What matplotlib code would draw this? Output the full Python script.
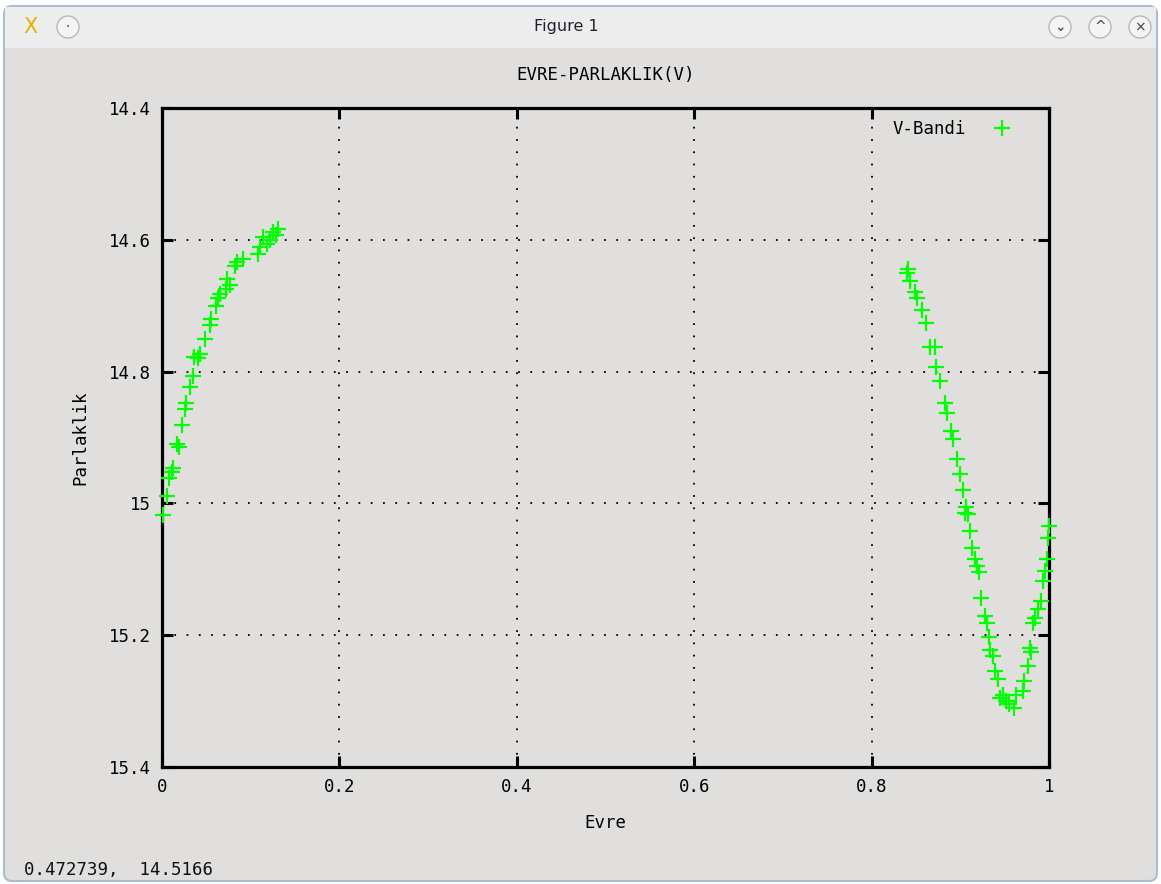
import matplotlib
matplotlib.use("Agg")
import matplotlib.pyplot as plt
from matplotlib.patches import FancyBboxPatch, Rectangle, Circle
import numpy as np

# ---- data ----
phase = [0.0015, 0.0053, 0.008, 0.0127, 0.011, 0.0173, 0.019, 0.0225, 0.026, 0.027,
         0.032, 0.0346, 0.0364, 0.043, 0.041, 0.0485, 0.054, 0.055, 0.061, 0.0635,
         0.065, 0.0736, 0.0767, 0.072, 0.0823, 0.085, 0.0917, 0.1086, 0.110, 0.1135,
         0.118, 0.1255, 0.131, 0.122, 0.128,
         0.8395, 0.8405, 0.8433, 0.849, 0.8516, 0.8565, 0.861, 0.866, 0.8715, 0.873,
         0.877, 0.8828, 0.885, 0.889, 0.892, 0.896, 0.8997, 0.903, 0.906,
         0.905, 0.909, 0.911, 0.9135, 0.917, 0.919, 0.921, 0.923, 0.928, 0.930,
         0.932, 0.9335, 0.937, 0.939, 0.942, 0.9447, 0.9485, 0.952, 0.955, 0.960,
         0.963, 0.971, 0.972, 0.976, 0.9786, 0.980, 0.982, 0.984, 0.988, 0.9906,
         0.993, 0.9955, 0.9975, 0.999, 0.9995]
mag = [15.017, 14.989, 14.961, 14.947, 14.952, 14.910, 14.915, 14.881, 14.857, 14.847,
       14.824, 14.806, 14.778, 14.774, 14.780, 14.750, 14.730, 14.720, 14.700, 14.689,
       14.682, 14.659, 14.668, 14.675, 14.639, 14.634, 14.629, 14.621, 14.611, 14.595,
       14.606, 14.588, 14.583, 14.600, 14.592,
       14.650, 14.645, 14.662, 14.679, 14.689, 14.707, 14.727, 14.763, 14.763, 14.793,
       14.814, 14.847, 14.863, 14.890, 14.902, 14.933, 14.956, 14.980, 15.006,
       15.014, 15.016, 15.042, 15.067, 15.085, 15.095, 15.104, 15.143, 15.171, 15.181,
       15.203, 15.222, 15.232, 15.255, 15.267, 15.295, 15.290, 15.300, 15.305, 15.311,
       15.290, 15.285, 15.270, 15.247, 15.219, 15.225, 15.181, 15.174, 15.161, 15.148,
       15.118, 15.103, 15.085, 15.053, 15.034]

xticks = [0, 0.2, 0.4, 0.6, 0.8, 1]
xticklabels = ["0", "0.2", "0.4", "0.6", "0.8", "1"]
yticks = [14.4, 14.6, 14.8, 15.0, 15.2, 15.4]
yticklabels = ["14.4", "14.6", "14.8", "15", "15.2", "15.4"]

W, H = 1161, 884
mono = "DejaVu Sans Mono"
fig = plt.figure(figsize=(W / 100, H / 100), dpi=100, facecolor="white")

# ---- window decoration (pixel coordinates) ----
bg = fig.add_axes([0, 0, 1, 1])
bg.set_xlim(0, W)
bg.set_ylim(H, 0)
bg.axis("off")
bg.add_patch(FancyBboxPatch((4, 6), W - 8, H - 9, boxstyle="round,pad=0,rounding_size=8",
                            facecolor="#e0dfde", edgecolor="#a9bcd3", lw=1.5))
bg.add_patch(Rectangle((5, 7), W - 10, 41, facecolor="#ededed", edgecolor="none"))
bg.text(566, 27, "Figure 1", ha="center", va="center", fontsize=11.5,
        family="DejaVu Sans", color="#202030")
for cx, sym in [(68, "·"), (1060, "⌄"), (1100, "^"), (1140, "×")]:
    bg.add_patch(Circle((cx, 27), 11, facecolor="#f4f4f4", edgecolor="#b8b8b8", lw=1))
    bg.text(cx, 27, sym, ha="center", va="center", fontsize=10, color="#404040")
bg.text(30, 27, "X", ha="center", va="center", fontsize=15, color="#e8b000",
        family="DejaVu Sans")
bg.text(24, 870, "0.472739,  14.5166", ha="left", va="center", fontsize=12.5,
        family=mono, color="#111111")

# ---- main axes ----
ax = fig.add_axes([162 / W, 1 - 767 / H, (1049 - 162) / W, (767 - 108) / H])
ax.set_facecolor("none")
ax.plot(phase, mag, linestyle="none", marker="+", markersize=12, markeredgewidth=1.6,
        color="#00ff00", label="V-Bandi", clip_on=False, zorder=3)
ax.set_xlim(0, 1)
ax.set_ylim(15.4, 14.4)
ax.set_xticks(xticks)
ax.set_xticklabels(xticklabels)
ax.set_yticks(yticks)
ax.set_yticklabels(yticklabels)
ax.tick_params(direction="in", length=8, width=2.2, top=True, right=True,
               labelsize=12.5, pad=8, colors="black")
for lab in ax.get_xticklabels() + ax.get_yticklabels():
    lab.set_family(mono)
for s in ax.spines.values():
    s.set_linewidth(2.3)
ax.grid(True, color="black", linestyle=(0, (1, 5.8)), linewidth=1.3)
ax.set_axisbelow(True)
ax.set_title("EVRE-PARLAKLIK(V)", fontsize=12.5, family=mono, pad=20)
ax.set_xlabel("Evre", fontsize=12.5, family=mono, labelpad=13)
ax.set_ylabel("Parlaklik", fontsize=12.5, family=mono, labelpad=14)
leg = ax.legend(loc="upper right", frameon=False, markerfirst=False,
                prop={"family": mono, "size": 12.5}, handlelength=1.5,
                handletextpad=1.3, borderaxespad=0.6,
                bbox_to_anchor=(1 - 17 / 887, 1 + 5 / 659))

fig.savefig("out.png", dpi=100, facecolor=fig.get_facecolor())
